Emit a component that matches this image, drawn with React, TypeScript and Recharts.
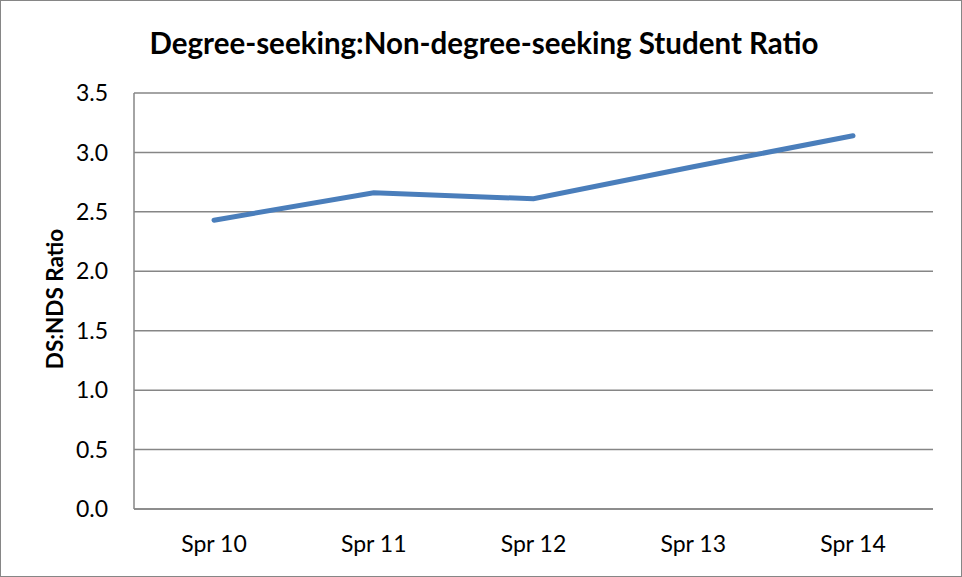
import { LineChart, Line, XAxis, YAxis, CartesianGrid } from "recharts";

const terms = ["Spr 10", "Spr 11", "Spr 12", "Spr 13", "Spr 14"];
const ratios = [2.43, 2.66, 2.61, 2.88, 3.14];
const yTicks = [0, 0.5, 1, 1.5, 2, 2.5, 3, 3.5];

const data = terms.map((term, i) => ({ term, ratio: ratios[i] }));

const FONT = "Lato, 'Open Sans', sans-serif";
const GRID = "#868686";

function YTitle({ viewBox }: any) {
  const cx = viewBox.x + 53;
  const cy = viewBox.y + viewBox.height / 2 - 2;
  return (
    <text
      x={cx}
      y={cy}
      transform={`rotate(-90, ${cx}, ${cy})`}
      textAnchor="middle"
      dominantBaseline="central"
      fontFamily={FONT}
      fontWeight="bold"
      fontSize={22.5}
      fill="#000"
    >
      DS:NDS Ratio
    </text>
  );
}

export default function App() {
  return (
    <div
      style={{
        position: "absolute",
        top: 0,
        left: 0,
        width: 962,
        height: 577,
        boxSizing: "border-box",
        border: `1px solid ${GRID}`,
        background: "#fff",
        fontFamily: FONT,
      }}
    >
      <div
        style={{
          position: "absolute",
          top: 27,
          left: 3,
          width: 960,
          textAlign: "center",
          fontSize: 29.5,
          fontWeight: "bold",
          lineHeight: "30px",
          color: "#000",
        }}
      >
        Degree-seeking:Non-degree-seeking Student Ratio
      </div>
      <LineChart
        width={960}
        height={575}
        data={data}
        margin={{ top: 92, right: 28, bottom: 37, left: 0 }}
      >
        <CartesianGrid vertical={false} stroke={GRID} strokeWidth={1.5} />
        <XAxis
          dataKey="term"
          padding={{ left: 80, right: 80 }}
          axisLine={{ stroke: GRID, strokeWidth: 1.5 }}
          tickLine={false}
          tickMargin={21}
          tick={{ fontSize: 23, fill: "#000", fontFamily: FONT }}
        />
        <YAxis
          width={133}
          domain={[0, 3.5]}
          ticks={yTicks}
          tickFormatter={(v: number) => v.toFixed(1)}
          axisLine={{ stroke: GRID, strokeWidth: 1.5 }}
          tickLine={false}
          tickMargin={20}
          tick={{ fontSize: 23, fill: "#000", fontFamily: FONT }}
          label={<YTitle />}
        />
        <Line
          type="linear"
          dataKey="ratio"
          stroke="#4A7EBB"
          strokeWidth={5}
          strokeLinecap="round"
          dot={false}
          activeDot={false}
          isAnimationActive={false}
        />
      </LineChart>
    </div>
  );
}
